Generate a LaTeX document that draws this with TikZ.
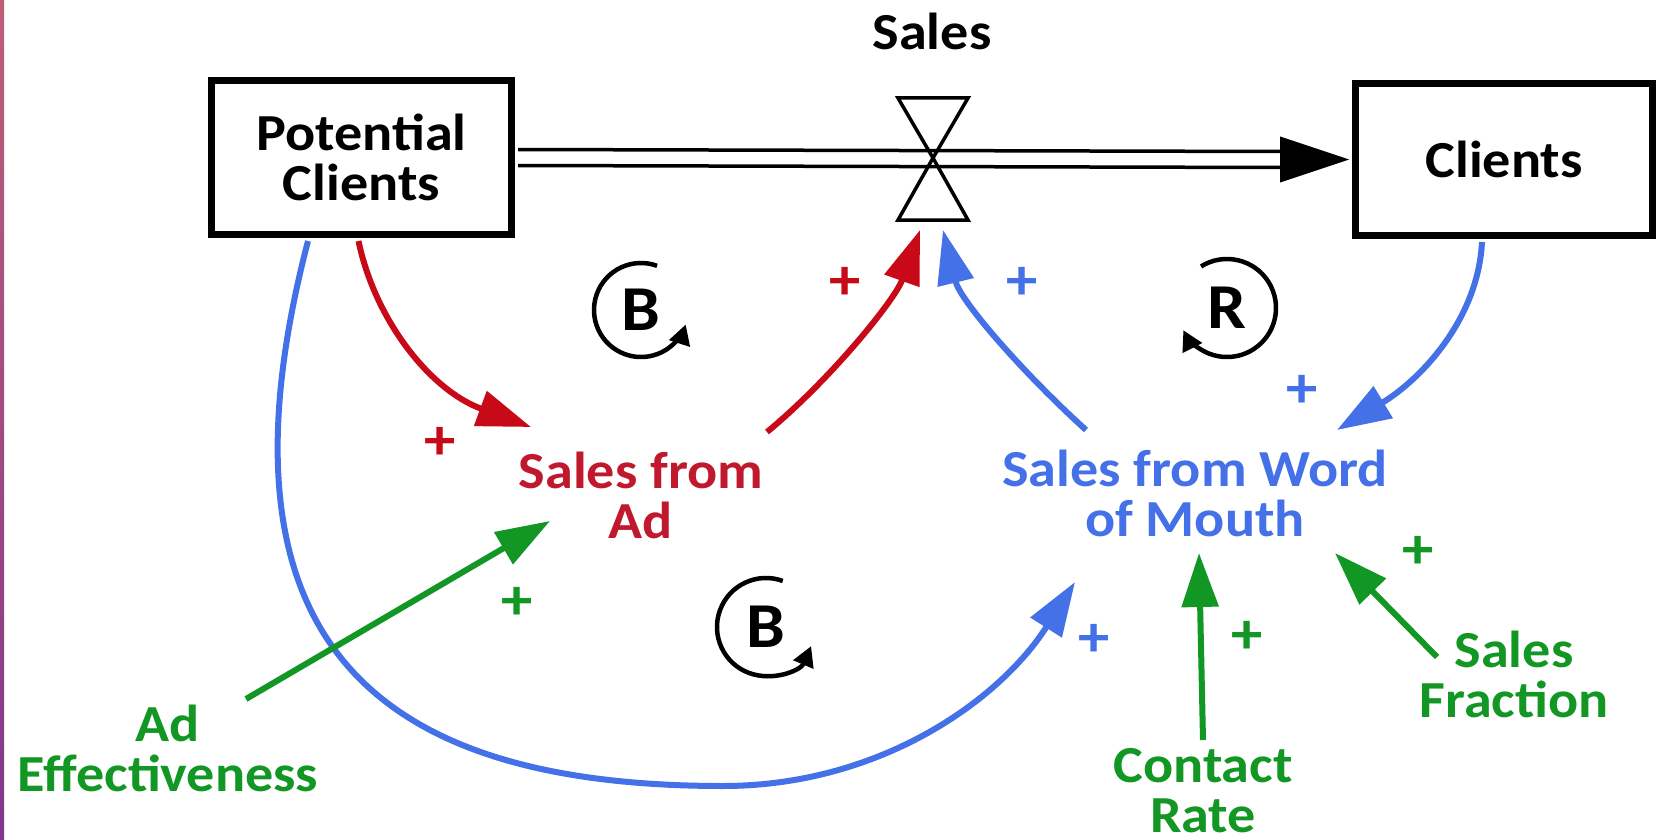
\documentclass[tikz,border=0pt]{standalone}
\usepackage{fontspec}
\setmainfont{Carlito}[FakeStretch=1.08]
\usetikzlibrary{arrows.meta,calc}
\definecolor{ctred}{RGB}{192,24,44}
\definecolor{cred}{RGB}{200,10,24}
\definecolor{cblue}{RGB}{68,112,232}
\definecolor{cgreen}{RGB}{18,150,36}
\definecolor{stripA}{RGB}{190,95,120}
\definecolor{stripB}{RGB}{130,55,140}
\begin{document}
\begin{tikzpicture}[x=1pt,y=-1pt,
  txt/.style={font=\fontsize{52}{50}\selectfont\bfseries, align=center, inner sep=0pt},
  stock/.style={txt, draw, line width=7pt, minimum width=300pt, minimum height=154pt},
  lnk/.style={line width=6pt, -{Triangle[length=54pt,width=36pt]}},
  pipe/.style={line width=3.5pt},
  plus/.style={font=\fontsize{58}{58}\selectfont\bfseries, inner sep=0pt},
  loopsym/.style={line width=4.5pt, -{Triangle[length=20pt,width=21pt]}},
  looplbl/.style={font=\fontsize{64}{64}\selectfont\bfseries, inner sep=0pt}]
\fill[white] (0,0) rectangle (1666,840);
\useasboundingbox (0,0) rectangle (1666,840);
\shade[top color=stripA, bottom color=stripB] (0,0) rectangle (4,840);

% stocks
\node[stock] (pc) at (361.5,157.5) {Potential\\Clients};
\node[stock, minimum width=297pt, minimum height=152pt] (cl) at (1504,159.5) {Clients};

% flow pipe and valve
\coordinate (v) at (933,158);
\draw[pipe] ($(pc.east)+(3,-8)$) -- ($(cl.west)+(-72,-8)$);
\draw[pipe] ($(pc.east)+(3,8)$) -- ($(cl.west)+(-72,8)$);
\fill ($(cl.west)+(-72,-23)$) -- ($(cl.west)+(-3,0)$) -- ($(cl.west)+(-72,23)$) -- cycle;
\draw[pipe, line join=miter] ($(v)+(-35,-60)$) -- ($(v)+(35,-60)$) -- (v) -- cycle;
\draw[pipe, line join=miter] ($(v)+(-35,62)$) -- ($(v)+(35,62)$) -- (v) -- cycle;
\node[txt] (sales) at (932,31) {Sales};

% auxiliaries
\node[txt, text=ctred] (sa) at (641,495) {Sales from\\Ad};
\node[txt, text=cblue] (wom) at (1195,493) {Sales from Word\\of Mouth};
\node[txt, text=cgreen] (ae) at (168,748) {Ad\\Effectiveness};
\node[txt, text=cgreen] (cr) at (1203,791) {Contact\\Rate};
\node[txt, text=cgreen] (sf) at (1514,674) {Sales\\Fraction};

% links
\draw[lnk, cred] ($(pc.south)+(-3,3)$) .. controls (375,320) and (430,390) .. ($(sa.center)+(-110,-68)$);
\draw[lnk, cred] ($(sa.center)+(126,-63)$) .. controls (830,380) and (895,300) .. ($(v)+(-13,72)$);
\draw[lnk, cblue] ($(wom.center)+(-109,-63)$) .. controls (1020,370) and (960,300) .. ($(v)+(10,72)$);
\draw[lnk, cblue] ($(cl.south)+(-22,3)$) .. controls (1478,320) and (1420,380) .. ($(wom.center)+(142,-63)$);
\draw[lnk, cblue] ($(pc.south)+(-53.5,3)$) .. controls (200,655) and (390,786) .. (723,786)
   .. controls (880,786) and (1000,700) .. ($(wom.center)+(-120,89)$);
\draw[lnk, cgreen] ($(ae.center)+(78,-49)$) -- ($(sa.center)+(-91,26)$);
\draw[lnk, cgreen] ($(cr.center)+(0,-51)$) -- ($(wom.center)+(4,60)$);
\draw[lnk, cgreen] ($(sf.center)+(-77,-17)$) -- ($(wom.center)+(140,60)$);

% polarities
\node[plus, text=cred] (p1) at (440,443) {+};
\node[plus, text=cred] (p2) at (845,283) {+};
\node[plus, text=cblue] (p3) at (1022,283) {+};
\node[plus, text=cblue] (p4) at (1302,391) {+};
\node[plus, text=cgreen] (p5) at (517,603) {+};
\node[plus, text=cblue] (p6) at (1094,640) {+};
\node[plus, text=cgreen] (p7) at (1247,637) {+};
\node[plus, text=cgreen] (p8) at (1418,552) {+};

% loop symbols
\node[looplbl] (b1) at (641,310) {B};
\draw[loopsym] ($(b1)+(-70:47)$) arc[start angle=-70, end angle=-342, radius=47];
\node[looplbl] (r1) at (1227,308) {R};
\draw[loopsym] ($(r1)+(-122:49)$) arc[start angle=-122, end angle=153, radius=49];
\node[looplbl] (b2) at (766,627) {B};
\draw[loopsym] ($(b2)+(-70:49)$) arc[start angle=-70, end angle=-337, radius=49];
\end{tikzpicture}
\end{document}
